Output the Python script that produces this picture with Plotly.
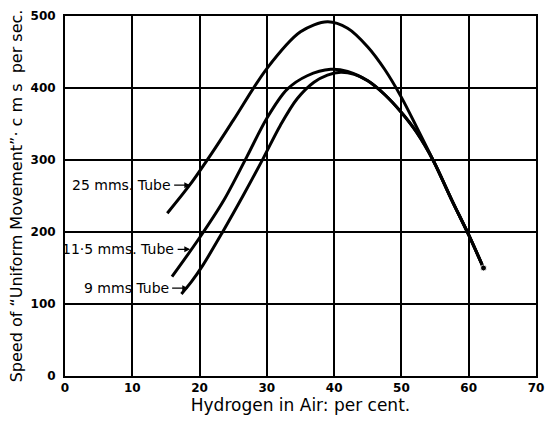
import plotly.graph_objects as go

# Hydrogen in air (per cent) vs speed of "uniform movement" (cms per sec)
x_25 = [15.2, 18.6, 22, 25, 30, 35, 39, 42, 45, 47.5, 50, 52.3, 54.8, 57.5, 60, 62.2]
y_25 = [226, 266, 312, 355, 427, 478, 492, 483, 457, 426, 387, 345, 298, 244, 196, 150]

x_115 = [15.9, 20, 23.6, 27, 30, 33, 36, 39.5, 42, 45, 47.5, 50, 52.3, 54.8, 57.5, 60, 62.2]
y_115 = [138, 192, 244, 304, 358, 398, 417, 426, 423, 410, 391, 366, 338, 298, 244, 196, 150]

x_9 = [17.3, 18.8, 20.5, 23.3, 26.5, 29.5, 32, 34.5, 37, 39, 41, 43, 45, 47.5, 50, 52.3, 54.8, 57.5, 60, 62.2]
y_9 = [114, 131, 154, 198, 251, 303, 348, 385, 408, 418, 422, 419, 410, 391, 366, 338, 298, 244, 196, 150]

labels = ["25 mms. Tube", "11·5 mms. Tube", "9 mms Tube"]
label_x = [18.6, 18.6, 18.3]
label_y = [265, 176, 122]

x_ticks = [0, 10, 20, 30, 40, 50, 60, 70]
y_ticks = [0, 100, 200, 300, 400, 500]

fig = go.Figure()
for xs, ys in [(x_25, y_25), (x_115, y_115), (x_9, y_9)]:
    sizes = [0] * (len(xs) - 1) + [6]
    fig.add_trace(go.Scatter(
        x=xs, y=ys, mode="lines+markers",
        line=dict(color="black", width=3, shape="spline", smoothing=0.9),
        marker=dict(color="black", size=sizes),
        showlegend=False, hoverinfo="skip"))

offsets = [-69, -72, -62]
for t, lx, ly, off in zip(labels, label_x, label_y, offsets):
    fig.add_annotation(
        x=lx, y=ly, text=t, showarrow=True, ax=off, ay=0,
        axref="pixel", ayref="pixel", xanchor="center",
        arrowhead=2, arrowsize=0.9, arrowwidth=1.3, arrowcolor="black",
        standoff=0, startstandoff=2,
        font=dict(family="DejaVu Sans", size=14, color="black"))

axis_common = dict(
    showgrid=True, gridcolor="black", gridwidth=1.5,
    showline=True, linecolor="black", linewidth=2, mirror=True,
    zeroline=False, ticks="", automargin=False,
    tickfont=dict(family="DejaVu Sans", size=12, color="black", weight="bold"),
)

fig.update_xaxes(range=[0, 70], tickvals=x_ticks, **axis_common,
                 title=dict(text="Hydrogen in Air: per cent.",
                            font=dict(family="DejaVu Sans", size=17, color="black"),
                            standoff=4))
fig.update_yaxes(range=[0, 500], tickvals=y_ticks, ticklabelstandoff=5, **axis_common,
                 title=dict(text="Speed of “Uniform Movement”· c m s  per sec.",
                            font=dict(family="DejaVu Sans", size=16, color="black"),
                            standoff=4))

fig.update_layout(
    width=545, height=421,
    margin=dict(l=65, r=9, t=16, b=45),
    plot_bgcolor="white", paper_bgcolor="white",
)

fig.write_html("out.html", config={"displayModeBar": False},
               post_script="document.body.style.margin='0px';")
